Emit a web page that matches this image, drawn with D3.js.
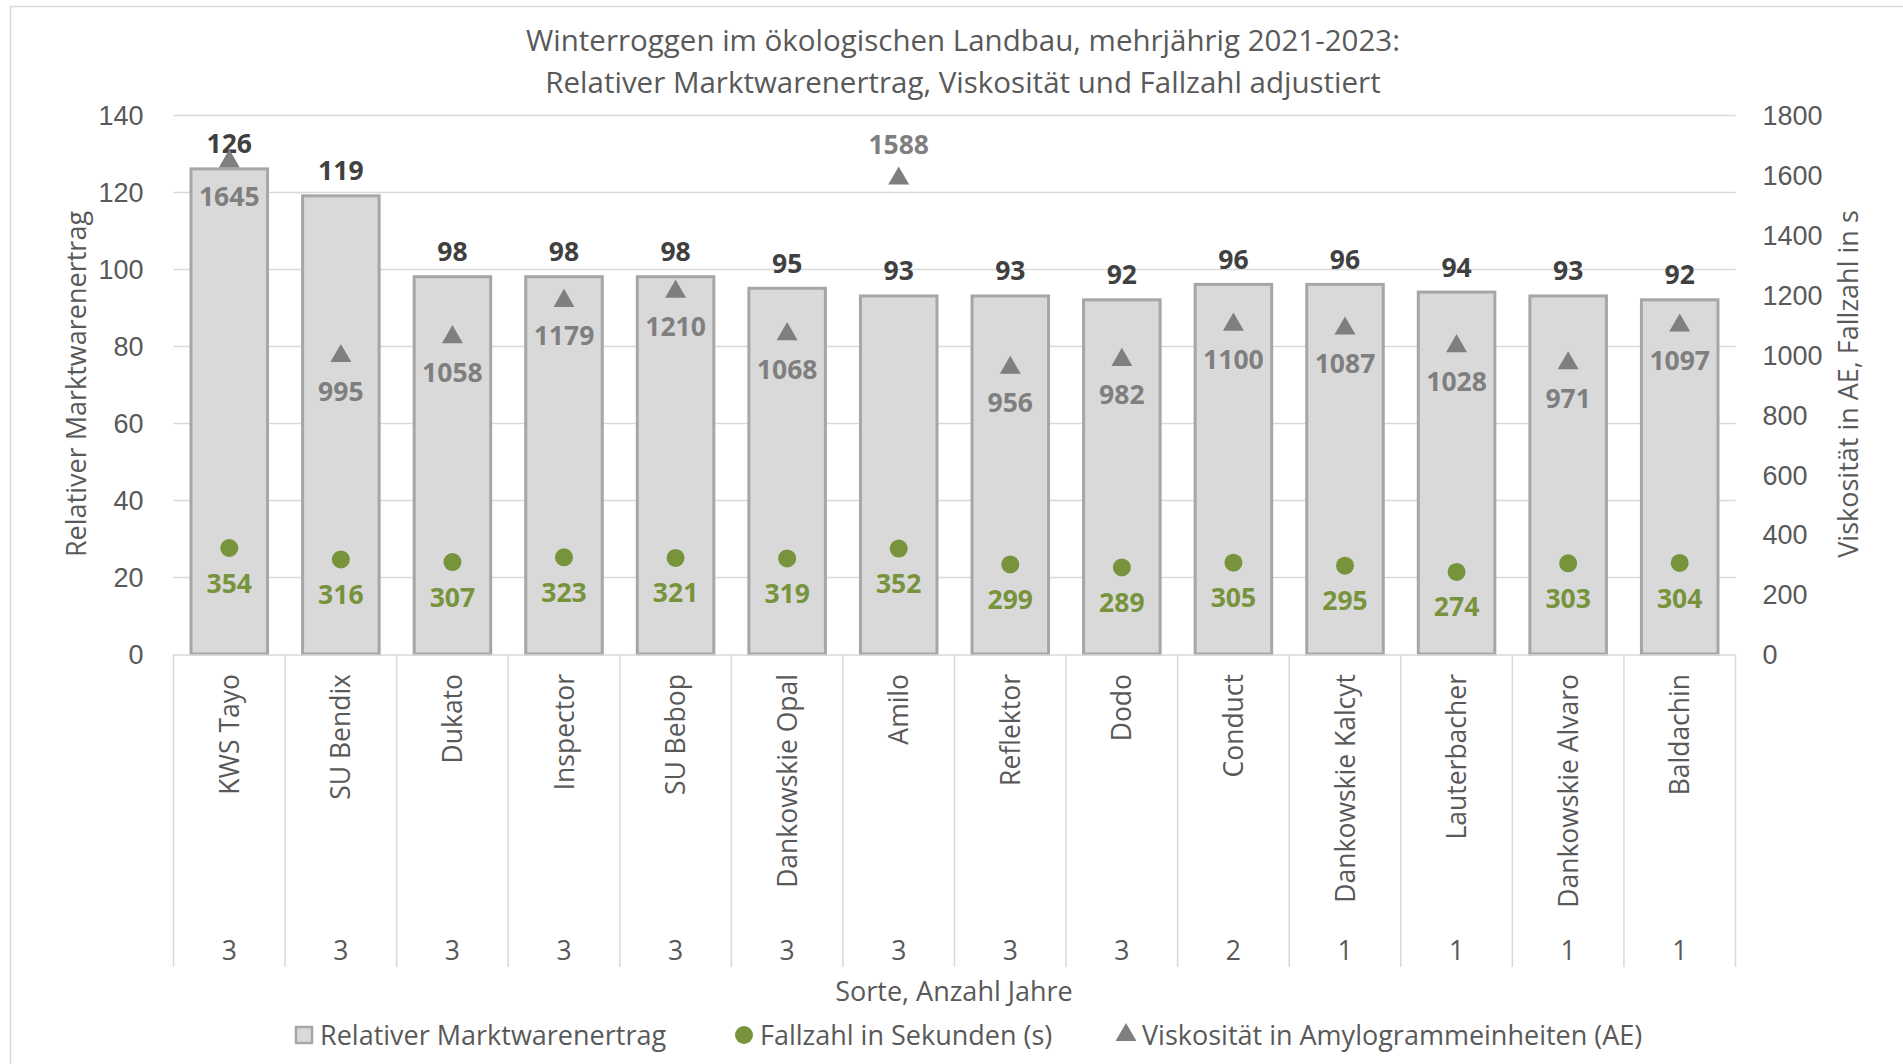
<!DOCTYPE html>
<html>
<head>
<meta charset="utf-8">
<script src="https://cdn.jsdelivr.net/npm/d3@7"></script>
<style>
    body { margin: 0; background: #fff; }
    svg { display: block; font-family: "Open Sans", sans-serif; }
</style>
</head>
<body>
<div class="chart"></div>
<script>
// data
var sorten = ["KWS Tayo", "SU Bendix", "Dukato", "Inspector", "SU Bebop", "Dankowskie Opal", "Amilo",
    "Reflektor", "Dodo", "Conduct", "Dankowskie Kalcyt", "Lauterbacher", "Dankowskie Alvaro", "Baldachin"];
var jahre = [3, 3, 3, 3, 3, 3, 3, 3, 3, 2, 1, 1, 1, 1];
var ertrag = [126, 119, 98, 98, 98, 95, 93, 93, 92, 96, 96, 94, 93, 92];
var viskositaet = [1645, 995, 1058, 1179, 1210, 1068, 1588, 956, 982, 1100, 1087, 1028, 971, 1097];
var fallzahl = [354, 316, 307, 323, 321, 319, 352, 299, 289, 305, 295, 274, 303, 304];
var leftTicks = [0, 20, 40, 60, 80, 100, 120, 140];
var rightTicks = [0, 200, 400, 600, 800, 1000, 1200, 1400, 1600, 1800];
// viscosity labels that sit above the marker
var labelAbove = ["Amilo"];

var w = 1903;
var h = 1064;
var plotLeft = 173.5, plotRight = 1735.5, plotTop = 115, plotBottom = 654;

var green = "#77933c";
var grey = "#7f7f7f";
var textGrey = "#595959";

var svg = d3.select(".chart")
    .append("svg")
    .attr("width", w)
    .attr("height", h);

// outer chart border
svg.append("rect")
    .attr("x", 10.5).attr("y", 6.5)
    .attr("width", w).attr("height", h)
    .attr("fill", "none")
    .attr("stroke", "#d9d9d9")
    .attr("stroke-width", 1.5);

var x = d3.scaleBand()
    .domain(sorten)
    .range([plotLeft, plotRight])
    .paddingInner(0.314)
    .paddingOuter(0.157);

var y = d3.scaleLinear().domain([0, 140]).range([plotBottom, plotTop]);
var y2 = d3.scaleLinear().domain([0, 1800]).range([plotBottom, plotTop]);

// gridlines
svg.append("g")
    .selectAll("line")
    .data(leftTicks.slice(1))
    .enter()
    .append("line")
    .attr("x1", plotLeft).attr("x2", plotRight)
    .attr("y1", function (d) { return y(d) + 0.5; })
    .attr("y2", function (d) { return y(d) + 0.5; })
    .attr("stroke", "#d9d9d9")
    .attr("stroke-width", 1.5);

// left axis
var yAxis = svg.append("g")
    .attr("transform", "translate(" + (plotLeft - 30) + ",0)")
    .call(d3.axisLeft(y).tickValues(leftTicks).tickFormat(d3.format("d")).tickSize(0).tickPadding(0));
yAxis.select(".domain").remove();
yAxis.selectAll("text")
    .attr("fill", textGrey)
    .style("font-size", "27px")
    .attr("dy", "0.36em");

// right axis
var y2Axis = svg.append("g")
    .attr("transform", "translate(" + (plotRight + 27) + ",0)")
    .call(d3.axisRight(y2).tickValues(rightTicks).tickFormat(d3.format("d")).tickSize(0).tickPadding(0));
y2Axis.select(".domain").remove();
y2Axis.selectAll("text")
    .attr("fill", textGrey)
    .style("font-size", "27px")
    .attr("dy", "0.36em");

// bars
svg.append("g")
    .selectAll("rect")
    .data(ertrag)
    .enter()
    .append("rect")
    .attr("x", function (d, i) { return x(sorten[i]); })
    .attr("y", function (d) { return y(d); })
    .attr("width", x.bandwidth())
    .attr("height", function (d) { return y(0) - y(d); })
    .attr("fill", "#d9d9d9")
    .attr("stroke", "#a6a6a6")
    .attr("stroke-width", 3);

// category axis: base line, separators, names, years
var bounds = sorten.map(function (d) { return x(d) - x.step() * x.paddingOuter(); });
bounds.push(plotRight);

svg.append("line")
    .attr("x1", plotLeft).attr("x2", plotRight)
    .attr("y1", y(0) + 1).attr("y2", y(0) + 1)
    .attr("stroke", "#d9d9d9").attr("stroke-width", 1.5);

svg.append("g")
    .selectAll("line")
    .data(bounds)
    .enter()
    .append("line")
    .attr("x1", function (d) { return d; })
    .attr("x2", function (d) { return d; })
    .attr("y1", y(0))
    .attr("y2", 967)
    .attr("stroke", "#d9d9d9")
    .attr("stroke-width", 1.5);

svg.append("g")
    .selectAll("text")
    .data(sorten)
    .enter()
    .append("text")
    .attr("transform", function (d) {
        return "translate(" + (x(d) + x.bandwidth() / 2) + ",674) rotate(-90)";
    })
    .attr("text-anchor", "end")
    .attr("dy", "0.36em")
    .attr("fill", textGrey)
    .style("font-size", "26.5px")
    .text(function (d) { return d; });

svg.append("g")
    .selectAll("text")
    .data(jahre)
    .enter()
    .append("text")
    .attr("x", function (d, i) { return x(sorten[i]) + x.bandwidth() / 2; })
    .attr("y", 950)
    .attr("dy", "0.36em")
    .attr("text-anchor", "middle")
    .attr("fill", textGrey)
    .style("font-size", "26.5px")
    .text(function (d) { return d; });

// bar value labels
svg.append("g")
    .selectAll("text")
    .data(ertrag)
    .enter()
    .append("text")
    .attr("x", function (d, i) { return x(sorten[i]) + x.bandwidth() / 2; })
    .attr("y", function (d) { return y(d) - 25; })
    .attr("dy", "0.36em")
    .attr("text-anchor", "middle")
    .attr("fill", "#404040")
    .style("font-size", "26.5px")
    .style("font-weight", "bold")
    .text(function (d) { return d; });

// viscosity triangles
var tri = d3.symbol().type(d3.symbolTriangle).size(190);
svg.append("g")
    .selectAll("path")
    .data(viskositaet)
    .enter()
    .append("path")
    .attr("d", tri)
    .attr("transform", function (d, i) {
        return "translate(" + (x(sorten[i]) + x.bandwidth() / 2) + "," + y2(d) + ")";
    })
    .attr("fill", grey);

svg.append("g")
    .selectAll("text")
    .data(viskositaet)
    .enter()
    .append("text")
    .attr("x", function (d, i) { return x(sorten[i]) + x.bandwidth() / 2; })
    .attr("y", function (d, i) {
        return labelAbove.indexOf(sorten[i]) >= 0 ? y2(d) - 34 : y2(d) + 35;
    })
    .attr("dy", "0.36em")
    .attr("text-anchor", "middle")
    .attr("fill", grey)
    .style("font-size", "26.5px")
    .style("font-weight", "bold")
    .text(function (d) { return d; });

// fallzahl dots
svg.append("g")
    .selectAll("circle")
    .data(fallzahl)
    .enter()
    .append("circle")
    .attr("cx", function (d, i) { return x(sorten[i]) + x.bandwidth() / 2; })
    .attr("cy", function (d) { return y2(d); })
    .attr("r", 9)
    .attr("fill", green);

svg.append("g")
    .selectAll("text")
    .data(fallzahl)
    .enter()
    .append("text")
    .attr("x", function (d, i) { return x(sorten[i]) + x.bandwidth() / 2; })
    .attr("y", function (d) { return y2(d) + 35; })
    .attr("dy", "0.36em")
    .attr("text-anchor", "middle")
    .attr("fill", green)
    .style("font-size", "26.5px")
    .style("font-weight", "bold")
    .text(function (d) { return d; });

// title
var title = svg.append("text")
    .attr("text-anchor", "middle")
    .attr("fill", textGrey)
    .style("font-size", "29.5px");
title.append("tspan").attr("x", 963).attr("y", 51).text("Winterroggen im ökologischen Landbau, mehrjährig 2021-2023:");
title.append("tspan").attr("x", 963).attr("y", 93).text("Relativer Marktwarenertrag, Viskosität und Fallzahl adjustiert");

// axis titles
svg.append("text")
    .attr("transform", "translate(76,384) rotate(-90)")
    .attr("text-anchor", "middle")
    .attr("dy", "0.36em")
    .attr("fill", textGrey)
    .style("font-size", "27px")
    .text("Relativer Marktwarenertrag");

svg.append("text")
    .attr("transform", "translate(1848,384) rotate(-90)")
    .attr("text-anchor", "middle")
    .attr("dy", "0.36em")
    .attr("fill", textGrey)
    .style("font-size", "27px")
    .text("Viskosität in AE, Fallzahl in s");

svg.append("text")
    .attr("x", 954)
    .attr("y", 991)
    .attr("dy", "0.36em")
    .attr("text-anchor", "middle")
    .attr("fill", textGrey)
    .style("font-size", "27px")
    .text("Sorte, Anzahl Jahre");

// legend
var legend = svg.append("g").attr("transform", "translate(0,1035)");

legend.append("rect")
    .attr("x", 296).attr("y", -8)
    .attr("width", 16).attr("height", 16)
    .attr("fill", "#d9d9d9")
    .attr("stroke", "#a6a6a6")
    .attr("stroke-width", 2.5);
legend.append("text")
    .attr("x", 320).attr("dy", "0.36em")
    .attr("fill", textGrey)
    .style("font-size", "27px")
    .text("Relativer Marktwarenertrag");

legend.append("circle")
    .attr("cx", 744).attr("cy", 0).attr("r", 9)
    .attr("fill", green);
legend.append("text")
    .attr("x", 760).attr("dy", "0.36em")
    .attr("fill", textGrey)
    .style("font-size", "27px")
    .text("Fallzahl in Sekunden (s)");

legend.append("path")
    .attr("d", tri)
    .attr("transform", "translate(1126,0)")
    .attr("fill", grey);
legend.append("text")
    .attr("x", 1142).attr("dy", "0.36em")
    .attr("fill", textGrey)
    .style("font-size", "27px")
    .text("Viskosität in Amylogrammeinheiten (AE)");
</script>
</body>
</html>
